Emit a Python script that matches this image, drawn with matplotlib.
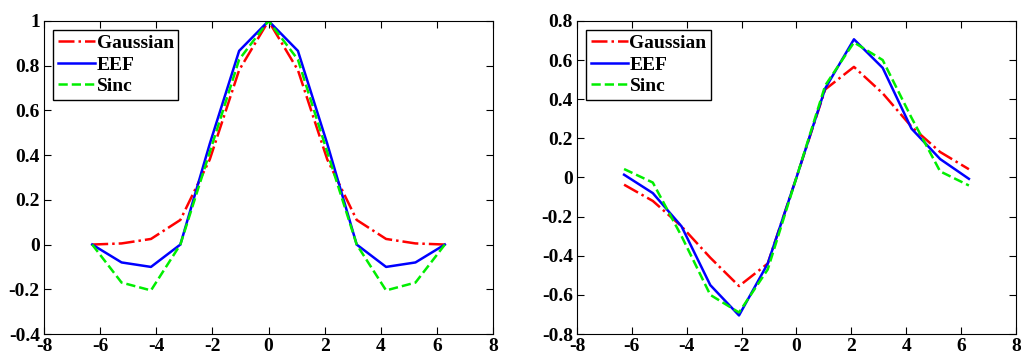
import numpy as np
import matplotlib.pyplot as plt

# Sample positions (13 points on [-2pi, 2pi])
x = np.linspace(-2 * np.pi, 2 * np.pi, 13)

# Left panel: kernels
gauss_left = [0.0, 0.005, 0.025, 0.11, 0.38, 0.78, 1.0, 0.78, 0.38, 0.11, 0.025, 0.005, 0.0]
eef_left = [0.0, -0.08, -0.10, 0.0, 0.45, 0.866, 1.0, 0.866, 0.45, 0.0, -0.10, -0.08, 0.0]
sinc_left = [0.0, -0.17, -0.205, 0.0, 0.413, 0.827, 1.0, 0.827, 0.413, 0.0, -0.205, -0.17, 0.0]

# Right panel: derivatives
gauss_right = [-0.037, -0.12, -0.25, -0.41, -0.555, -0.44, 0.0, 0.45, 0.565, 0.43, 0.26, 0.13, 0.042]
eef_right = [0.014, -0.08, -0.25, -0.55, -0.705, -0.44, 0.0, 0.455, 0.706, 0.56, 0.25, 0.094, -0.007]
sinc_right = [0.043, -0.026, -0.30, -0.60, -0.69, -0.47, 0.0, 0.47, 0.69, 0.60, 0.306, 0.031, -0.041]

plt.rcParams['font.family'] = ['Liberation Serif', 'DejaVu Serif']
plt.rcParams['font.weight'] = 'bold'
plt.rcParams['font.size'] = 14
plt.rcParams['axes.unicode_minus'] = False

fig = plt.figure(figsize=(10.21, 3.53), dpi=100)
ax1 = fig.add_axes([0.0431, 0.0538, 0.4398, 0.887])
ax2 = fig.add_axes([0.5651, 0.0538, 0.430, 0.887])


def fmt(t):
    return '0' if abs(t) < 1e-9 else '%g' % t


def draw(ax, g, e, s, ylim, yticks):
    ax.plot(x, g, color='red', linestyle='-.', lw=1.8, label='Gaussian')
    ax.plot(x, e, color='blue', linestyle='-', lw=1.8, label='EEF')
    ax.plot(x, s, color='#00ee00', linestyle='--', lw=1.8, label='Sinc')
    ax.set_xlim(-8, 8)
    ax.set_ylim(*ylim)
    xt = np.arange(-8, 9, 2)
    ax.set_xticks(xt)
    ax.set_xticklabels([fmt(t) for t in xt])
    ax.set_yticks(yticks)
    ax.set_yticklabels([fmt(t) for t in yticks])
    ax.tick_params(direction='in', top=True, right=True, length=5, width=0.8, pad=3)
    for sp in ax.spines.values():
        sp.set_linewidth(0.8)
    leg = ax.legend(loc='upper left', fancybox=False, edgecolor='black',
                    framealpha=1, borderpad=0.25, handlelength=1.9,
                    handletextpad=0.1, labelspacing=0.2, borderaxespad=0.45)
    leg.get_frame().set_linewidth(1.0)


draw(ax1, gauss_left, eef_left, sinc_left, (-0.4, 1.0), np.round(np.arange(-0.4, 1.01, 0.2), 1))
draw(ax2, gauss_right, eef_right, sinc_right, (-0.8, 0.8), np.round(np.arange(-0.8, 0.81, 0.2), 1))

fig.savefig('out.png', dpi=100)
